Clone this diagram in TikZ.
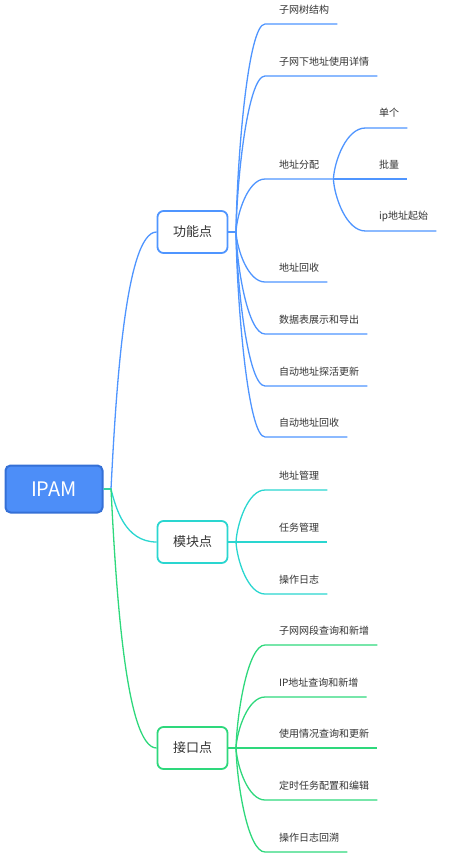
\documentclass[tikz,border=0pt]{standalone}
\usepackage{fontspec}
\newfontfamily\cjk{Noto Sans CJK SC}
\usepackage{tikz}
\usetikzlibrary{calc,positioning}
\definecolor{rootfill}{HTML}{4D8EF8}
\definecolor{rootline}{HTML}{3570D6}
\definecolor{blueline}{HTML}{4F95FF}
\definecolor{tealline}{HTML}{2AD6D0}
\definecolor{greenline}{HTML}{2ED87C}
\definecolor{textgray}{HTML}{333333}

\begin{document}
\begin{tikzpicture}[x=1pt, y=-1pt,
	rootbox/.style={draw=rootline, fill=rootfill, line width=2pt, rounded corners=5pt, minimum width=97pt, minimum height=47pt, text=white, font=\cjk\fontsize{20}{24}\selectfont},
	topicbox/.style={draw, fill=white, line width=1.8pt, rounded corners=6pt, minimum width=70pt, minimum height=42pt, text=textgray, font=\cjk\fontsize{13}{16}\selectfont},
	leaf/.style={anchor=west, inner sep=0pt, text=textgray, font=\cjk\fontsize{10}{12}\selectfont},
	bl/.style={draw=blueline, line width=1.3pt},
	tl/.style={draw=tealline, line width=1.3pt},
	gl/.style={draw=greenline, line width=1.3pt}]
			\useasboundingbox (0,0) rectangle (460,856);
			% root and topics
			\node[rootbox] (r) at (54,489) {IPAM};
			\node[topicbox, draw=blueline] (gn) at (192.5,232) {功能点};
			\node[topicbox, draw=tealline] (mk) at (192.5,542) {模块点};
			\node[topicbox, draw=greenline] (jk) at (192.5,748) {接口点};
			\coordinate (jr) at (111,489);
			\draw[bl] (r.east) -- (jr) .. controls (115.6,399) and (124.8,232) .. (gn.west);
			\draw[tl] (r.east) -- (jr) .. controls (115.6,507.5) and (124.8,542) .. (mk.west);
			\draw[gl] (r.east) -- (jr) .. controls (115.6,579.6) and (124.8,748) .. (jk.west);
			\coordinate (jg) at (236,232);
			\coordinate (jm) at (236,542);
			\coordinate (jj) at (236,748);
			\draw[bl] (gn.east) -- (jg);
			\draw[tl] (mk.east) -- (jm);
			\draw[gl] (jk.east) -- (jj);
			% 功能点
			\node[leaf] (g1) at (279,10) {子网树结构};
			\node[leaf] (g2) at (279,62) {子网下地址使用详情};
			\node[leaf] (g3) at (279,165) {地址分配};
			\node[leaf] (g4) at (279,268) {地址回收};
			\node[leaf] (g5) at (279,320) {数据表展示和导出};
			\node[leaf] (g6) at (279,372) {自动地址探活更新};
			\node[leaf] (g7) at (279,423) {自动地址回收};
			\draw[bl] (jg) .. controls (237,159) and (248,24) .. (265,24) -- (g1.east |- 0,24) -- ++(8,0);
			\draw[bl] (jg) .. controls (237,177.4) and (248,76) .. (265,76) -- (g2.east |- 0,76) -- ++(8,0);
			\draw[bl] (jg) .. controls (237,213.5) and (248,179) .. (265,179) -- (g3.east |- 0,179) -- ++(14,0) coordinate (ja);
			\draw[bl] (jg) .. controls (237,249.5) and (248,282) .. (265,282) -- (g4.east |- 0,282) -- ++(8,0);
			\draw[bl] (jg) .. controls (237,267.7) and (248,334) .. (265,334) -- (g5.east |- 0,334) -- ++(8,0);
			\draw[bl] (jg) .. controls (237,285.9) and (248,386) .. (265,386) -- (g6.east |- 0,386) -- ++(8,0);
			\draw[bl] (jg) .. controls (237,303.8) and (248,437) .. (265,437) -- (g7.east |- 0,437) -- ++(8,0);
			% 地址分配
			\node[leaf] (a1) at (379,113) {单个};
			\node[leaf] (a2) at (379,165) {批量};
			\node[leaf] (a3) at (379,216) {ip地址起始};
			\draw[bl] (ja) .. controls ($(ja)+(1,-18)$) and ($(ja)+(13,-51)$) .. ($(ja)+(32,-51)$) -- (a1.east |- 0,128) -- ++(8,0);
			\draw[bl] (ja) -- (a2.east |- 0,179) -- ++(8,0);
			\draw[bl] (ja) .. controls ($(ja)+(1,18)$) and ($(ja)+(13,52)$) .. ($(ja)+(32,52)$) -- (a3.east |- 0,231) -- ++(8,0);
			% 模块点
			\node[leaf] (m1) at (279,476) {地址管理};
			\node[leaf] (m2) at (279,528) {任务管理};
			\node[leaf] (m3) at (279,580) {操作日志};
			\draw[tl] (jm) .. controls (237,523.8) and (248,490) .. (265,490) -- (m1.east |- 0,490) -- ++(8,0);
			\draw[tl] (jm) -- (m2.east |- 0,542) -- ++(8,0);
			\draw[tl] (jm) .. controls (237,560.2) and (248,594) .. (265,594) -- (m3.east |- 0,594) -- ++(8,0);
			% 接口点
			\node[leaf] (j1) at (279,631) {子网网段查询和新增};
			\node[leaf] (j2) at (279,683) {IP地址查询和新增};
			\node[leaf] (j3) at (279,734) {使用情况查询和更新};
			\node[leaf] (j4) at (279,786) {定时任务配置和编辑};
			\node[leaf] (j5) at (279,838) {操作日志回溯};
			\draw[gl] (jj) .. controls (237,712) and (248,645) .. (265,645) -- (j1.east |- 0,645) -- ++(8,0);
			\draw[gl] (jj) .. controls (237,730) and (248,697) .. (265,697) -- (j2.east |- 0,697) -- ++(8,0);
			\draw[gl] (jj) -- (j3.east |- 0,748) -- ++(8,0);
			\draw[gl] (jj) .. controls (237,766) and (248,800) .. (265,800) -- (j4.east |- 0,800) -- ++(8,0);
			\draw[gl] (jj) .. controls (237,784.4) and (248,852) .. (265,852) -- (j5.east |- 0,852) -- ++(8,0);
		\end{tikzpicture}
\end{document}
